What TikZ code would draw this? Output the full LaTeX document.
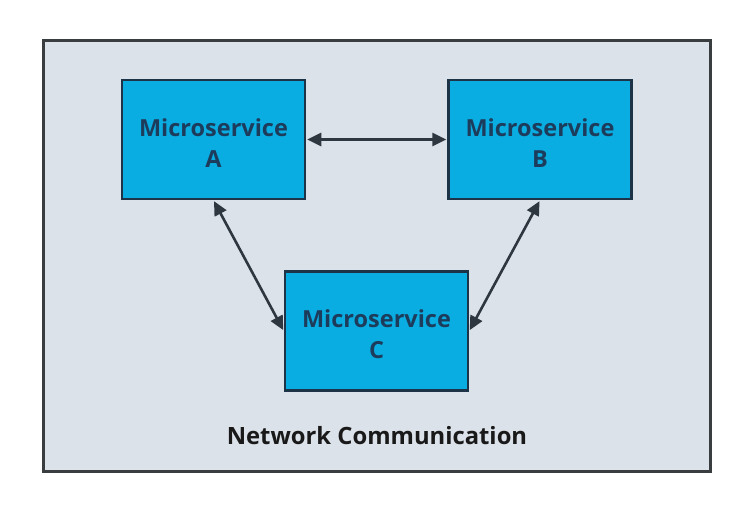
\documentclass[tikz,border=0pt]{standalone}
\usepackage{fontspec}
\setmainfont{Open Sans}
\usetikzlibrary{arrows.meta}
\definecolor{bgpanel}{HTML}{DCE2EA}
\definecolor{panelline}{HTML}{3A3D40}
\definecolor{boxfill}{HTML}{0AADE1}
\definecolor{boxline}{HTML}{1D3347}
\definecolor{boxtext}{HTML}{1D3C5C}
\definecolor{arrowcol}{HTML}{2E3740}
\tikzset{
  svcbox/.style={draw=boxline, line width=2.5pt, fill=boxfill, minimum width=183pt, minimum height=119pt, inner sep=0pt, align=center, text=boxtext, font=\bfseries\fontsize{23.5}{31}\selectfont},
  svclabel/.style={inner sep=0pt, align=center, text=boxtext, font=\bfseries\fontsize{23.5}{31}\selectfont},
  link/.style={draw=arrowcol, line width=2.6pt, {Triangle[length=14pt,width=13pt]}-{Triangle[length=14pt,width=13pt]}, shorten <=1pt, shorten >=1pt}
}
\begin{document}
\begin{tikzpicture}[x=1pt,y=-1pt]
\useasboundingbox (0,0) rectangle (755,504);
\fill[white] (0,0) rectangle (755,504);
\node[draw=panelline, line width=3pt, fill=bgpanel, minimum width=667pt, minimum height=431pt, inner sep=0pt] (panel) at (376.5,255.5) {};
\node[svcbox] (A) at (213.5,139.5) {};
\node[svcbox] (B) at (540,139.5) {};
\node[svcbox] (C) at (376.5,331) {};
\node[svclabel] (At) at (213.5,143) {Microservice\\A};
\node[svclabel] (Bt) at (540,143) {Microservice\\B};
\node[svclabel] (Ct) at (376.5,334.5) {Microservice\\C};
\node[font=\bfseries\fontsize{23.8}{28}\selectfont, text=black!90] (label) at (377,436) {Network Communication};
\draw[link] (A.east) -- (B.west);
\draw[link] (A.south) -- (C.west);
\draw[link] (B.south) -- (C.east);
\end{tikzpicture}
\end{document}
